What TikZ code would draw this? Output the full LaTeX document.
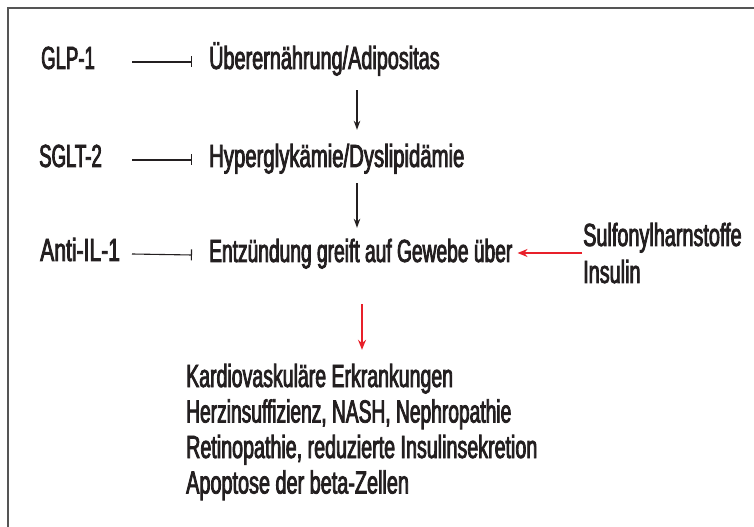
\documentclass[tikz,border=0pt]{standalone}
\usepackage{fontspec}
\setmainfont[FakeStretch=0.62,FakeBold=2.5]{Liberation Sans}
\newcommand\condfont[1]{\fontspec[FakeStretch=#1,FakeBold=2.5]{Liberation Sans}}
\usetikzlibrary{arrows.meta,calc}
\definecolor{ink}{HTML}{231F20}
\definecolor{framegray}{HTML}{555555}
\definecolor{redarrow}{HTML}{E8202A}
\begin{document}
\begin{tikzpicture}[x=1bp,y=-1bp,
  lbl/.style={anchor=base west,inner sep=0pt,text height=23bp,text depth=7bp,
    text=ink,font=\condfont{#1}\fontsize{32bp}{36bp}\selectfont},
  lbl/.default=0.62,
  inhib/.style={draw=ink,line width=1.1bp,-{Bar[width=11bp]}},
  blackarrow/.style={draw=ink,line width=1.1bp,-{Stealth[length=9bp,width=6.5bp]}},
  redarr/.style={draw=redarrow,line width=1.4bp,-{Stealth[length=10bp,width=8bp]}}]
\useasboundingbox (0,0) rectangle (754,527);
\fill[white] (0,0) rectangle (754,527);
\draw[framegray,line width=2bp] (8,527) -- (8,8) -- (754,8);

\node[lbl=0.58] (glp)   at (41,69)  {GLP-1};
\node[lbl=0.62] (uber)  at (209,69) {Überernährung/Adipositas};
\node[lbl=0.58] (sglt)  at (39,167) {SGLT-2};
\node[lbl=0.635] (hyper) at (209,167) {Hyperglykämie/Dyslipidämie};
\node[lbl=0.66] (anti)  at (40,261) {Anti-IL-1};
\node[lbl=0.60] (entz)  at (209,262) {Entzündung greift auf Gewebe über};
\node[lbl=0.62] (sulf)  at (583,246) {Sulfonylharnstoffe};
\node[lbl=0.62] (ins)   at (583,283) {Insulin};
\node[lbl=0.61] (k1)    at (186,387) {Kardiovaskuläre Erkrankungen};
\node[lbl=0.60] (k2)    at (186,422.5) {Herzinsuffizienz, NASH, Nephropathie};
\node[lbl=0.615] (k3)    at (186,458) {Retinopathie, reduzierte Insulinsekretion};
\node[lbl=0.62] (k4)    at (186,493.5) {Apoptose der beta-Zellen};

\coordinate (ax) at (357,0);
\coordinate (rx) at (362,0);
\coordinate (lx) at (132,0);
\coordinate (bx) at (192,0);

\draw[inhib] ([yshift=-1bp]glp.east -| lx) -- ([yshift=-1bp]uber.west -| bx);
\draw[inhib] ([yshift=-1bp]sglt.east -| lx) -- ([yshift=-1bp]hyper.west -| bx);
\draw[inhib] ([yshift=-1bp]anti.east -| lx) -- ([yshift=-1bp]entz.west -| bx);

\draw[blackarrow,shorten <=14bp,shorten >=14bp] (uber.south -| ax) -- (hyper.north -| ax);
\draw[blackarrow,shorten <=9bp,shorten >=11bp] (hyper.south -| ax) -- (entz.north -| ax);
\draw[redarr,shorten <=35bp,shorten >=14bp] (entz.south -| rx) -- (k1.north -| rx);
\draw[redarr,shorten <=1bp,shorten >=5bp] ([yshift=1bp]entz.east -| sulf.west) -- ([yshift=1bp]entz.east);
\end{tikzpicture}
\end{document}
